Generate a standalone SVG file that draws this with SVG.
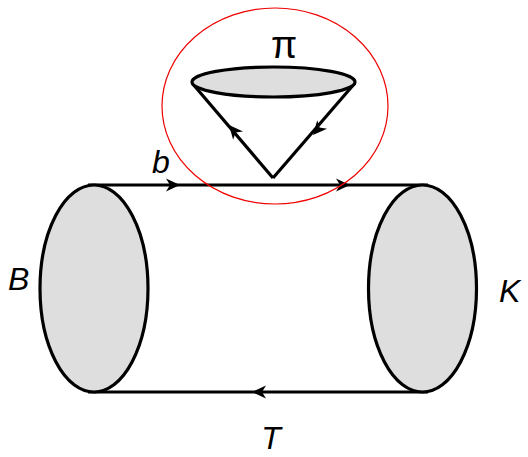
<svg xmlns="http://www.w3.org/2000/svg" width="528" height="457" viewBox="0 0 528 457">
<style>
.ln{stroke:#000;stroke-width:3.2;fill:none}
.bl{stroke:#000;stroke-width:3.2;fill:#dedede}
.lab{font-family:"Liberation Sans",Arial,sans-serif;font-size:32px;fill:#000}
.it{font-style:italic}
</style>
<defs>
<path id="ah" d="M0,0 L-14,-6.5 L-10,0 L-14,6.5 Z" fill="#000"/>
</defs>
<g id="connectors">
<line class="ln" x1="88" y1="185" x2="428" y2="185"/>
<line class="ln" x1="88" y1="392" x2="428" y2="392"/>
<line class="ln" x1="192" y1="83" x2="273" y2="178"/>
<line class="ln" x1="355" y1="83" x2="273" y2="178"/>
<use href="#ah" transform="translate(180,185)"/>
<use href="#ah" transform="translate(350,185)"/>
<use href="#ah" transform="translate(252,392) rotate(180)"/>
<use href="#ah" transform="translate(229,125) rotate(229.5)"/>
<use href="#ah" transform="translate(313,135) rotate(130.8)"/>
</g>
<g id="B">
<ellipse class="bl" cx="94" cy="288.5" rx="54" ry="103.5"/>
<text class="lab it" x="8" y="290">B</text>
</g>
<g id="K">
<ellipse class="bl" cx="422.5" cy="288.5" rx="54" ry="103.5"/>
<text class="lab it" x="499" y="302">K</text>
</g>
<g id="pi">
<ellipse class="bl" cx="273.5" cy="82" rx="81.5" ry="15"/>
<text class="lab" x="284" y="58" text-anchor="middle" style="font-size:38px">π</text>
</g>
<g id="loop">
<ellipse cx="275" cy="106" rx="113" ry="98" fill="none" stroke="#e00" stroke-width="1.2"/>
</g>
<text class="lab it" x="161" y="173" text-anchor="middle">b</text>
<text class="lab it" x="271" y="449" text-anchor="middle">T</text>
</svg>
